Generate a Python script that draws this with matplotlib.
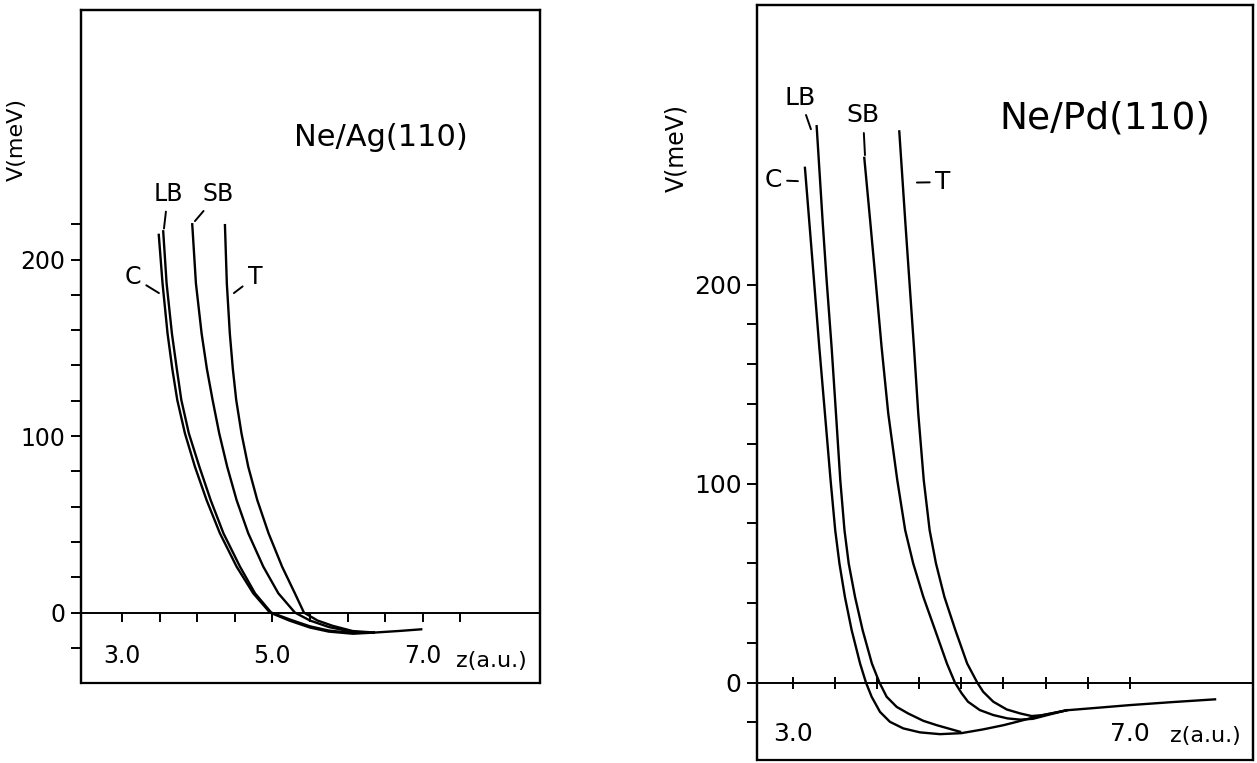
import matplotlib.pyplot as plt
from matplotlib.patches import Rectangle

# ---- Ne/Ag(110): z in a.u., V in meV ----
ag_c_z = [3.49, 3.54, 3.607, 3.67, 3.736, 3.838, 3.971, 4.126, 4.303, 4.525, 4.746, 4.968,
          5.23, 5.50, 5.75, 6.07, 6.34, 6.70, 6.98]
ag_c_v = [214, 186.5, 158, 138, 120.4, 101.5, 82.6, 63.7, 44.9, 26.0, 10.9, 0,
          -4.6, -8.5, -10.8, -12.0, -11.4, -10.4, -9.5]
ag_lb_z = [3.549, 3.594, 3.665, 3.73, 3.79, 3.89, 4.03, 4.18, 4.35, 4.57, 4.77, 4.985,
           5.25, 5.50, 5.75, 6.07, 6.35]
ag_lb_v = [216, 186.5, 158, 138, 120.4, 101.5, 82.6, 63.7, 44.9, 26.0, 10.9, 0,
           -4.2, -7.8, -10.2, -11.6, -11.3]
ag_sb_z = [3.935, 3.984, 4.06, 4.13, 4.206, 4.294, 4.40, 4.525, 4.68, 4.88, 5.08, 5.30,
           5.50, 5.75, 6.07, 6.35]
ag_sb_v = [220, 186.5, 158, 138, 120.4, 101.5, 82.6, 63.7, 44.9, 26.0, 10.9, 0,
           -4.5, -8.2, -11.0, -11.3]
ag_t_z = [4.37, 4.395, 4.435, 4.475, 4.52, 4.59, 4.68, 4.80, 4.95, 5.13, 5.30, 5.42,
          5.60, 5.80, 6.07, 6.35]
ag_t_v = [219.5, 186.5, 158, 138, 120.4, 101.5, 82.6, 63.7, 44.9, 26.0, 10.9, 0,
          -4.5, -7.5, -10.5, -11.3]

# ---- Ne/Pd(110) ----
pd_c_z = [3.146, 3.196, 3.253, 3.316, 3.383, 3.45, 3.505, 3.555, 3.62, 3.70, 3.80, 3.87,
          3.937, 4.036, 4.154, 4.312, 4.51, 4.747, 5.00, 5.26, 5.50, 5.66, 5.90, 6.25,
          6.60, 7.00, 7.50, 8.01]
pd_c_v = [258.7, 232.4, 202.3, 168.7, 135.3, 101.8, 76.6, 59.9, 43.1, 26.4, 9.6, 0,
          -7.1, -14.7, -19.7, -23.0, -25.0, -25.9, -25.4, -23.5, -21.4, -19.7, -17.0, -13.9,
          -12.7, -11.3, -9.8, -8.4]
pd_lb_z = [3.285, 3.355, 3.403, 3.462, 3.514, 3.565, 3.615, 3.665, 3.74, 3.83, 3.94, 4.03,
           4.115, 4.234, 4.37, 4.55, 4.71, 4.985]
pd_lb_v = [279.6, 232.4, 202.3, 168.7, 135.3, 101.8, 76.6, 59.9, 43.1, 26.4, 9.6, 0,
           -7.1, -12.2, -15.5, -19.2, -21.4, -24.7]
pd_sb_z = [3.85, 3.919, 3.984, 4.055, 4.134, 4.241, 4.335, 4.43, 4.55, 4.69, 4.83, 4.925,
           5.005, 5.08, 5.22, 5.38, 5.55, 5.70, 5.85, 6.05, 6.25]
pd_sb_v = [263.7, 232.4, 202.3, 168.7, 135.3, 101.8, 76.6, 59.9, 43.1, 26.4, 9.6, 0,
           -5.4, -9.6, -13.8, -16.3, -18.0, -18.6, -18.2, -16.0, -13.9]
pd_t_z = [4.265, 4.335, 4.384, 4.439, 4.49, 4.555, 4.625, 4.70, 4.80, 4.93, 5.07, 5.19,
          5.26, 5.38, 5.54, 5.70, 5.835, 5.95, 6.10, 6.25]
pd_t_v = [277, 232.4, 202.3, 168.7, 135.3, 101.8, 76.6, 59.9, 43.1, 26.4, 9.6, 0,
          -4.6, -9.6, -13.5, -15.5, -16.8, -16.4, -15.2, -13.9]

ag_xticks = [3.0, 3.5, 4.0, 4.5, 5.0, 5.5, 6.0, 6.5, 7.0, 7.5]
ag_xlabels = ["3.0", "", "", "", "5.0", "", "", "", "7.0", ""]
pd_xticks = [3.0, 3.5, 4.0, 4.5, 5.0, 5.5, 6.0, 6.5, 7.0]
pd_xlabels = ["3.0", "", "", "", "", "", "", "", "7.0"]
ag_yticks = list(range(-20, 221, 20))
pd_yticks = list(range(-20, 201, 20))


def ylabels(ticks):
    return [str(t) if t in (0, 100, 200) else "" for t in ticks]


def setup(ax, xlim, ylim, xt, xl, yt, fs, xdir, xlen, xpad):
    ax.set_xlim(*xlim)
    ax.set_ylim(*ylim)
    ax.spines['bottom'].set_position(('data', 0))
    ax.spines['bottom'].set_linewidth(1.4)
    for s in ('left', 'right', 'top'):
        ax.spines[s].set_linewidth(1.6)
    ax.add_patch(Rectangle((0, 0), 1, 1, transform=ax.transAxes, fill=False,
                           lw=1.6, clip_on=False))
    ax.set_xticks(xt)
    ax.set_xticklabels(xl)
    ax.set_yticks(yt)
    ax.set_yticklabels(ylabels(yt))
    ax.tick_params(axis='x', direction=xdir, length=xlen, width=1.4, pad=xpad, labelsize=fs)
    ax.tick_params(axis='y', direction='out', length=7, width=1.4, pad=4, labelsize=fs)


fig = plt.figure(figsize=(12.57, 7.63), dpi=100)
ax1 = fig.add_axes([0.0644, 0.1049, 0.3652, 0.882])
ax2 = fig.add_axes([0.6022, 0.0039, 0.3946, 0.9895])

setup(ax1, (2.455, 8.56), (-39.9, 341.4), ag_xticks, ag_xlabels, ag_yticks, 17, 'out', 6.5, 16)
setup(ax2, (2.577, 8.46), (-38.9, 340.5), pd_xticks, pd_xlabels, pd_yticks, 18, 'inout', 9, 24)

lw = 1.7
for z, v in [(ag_c_z, ag_c_v), (ag_lb_z, ag_lb_v), (ag_sb_z, ag_sb_v), (ag_t_z, ag_t_v)]:
    ax1.plot(z, v, color='black', lw=lw, solid_joinstyle='round')
for z, v in [(pd_c_z, pd_c_v), (pd_lb_z, pd_lb_v), (pd_sb_z, pd_sb_v), (pd_t_z, pd_t_v)]:
    ax2.plot(z, v, color='black', lw=lw, solid_joinstyle='round')

# titles
ax1.text(6.444, 269.4, "Ne/Ag(110)", fontsize=22, ha='center', va='center')
ax2.text(6.706, 283.7, "Ne/Pd(110)", fontsize=27, ha='center', va='center')

# axis labels
ax1.set_ylabel("V(meV)", fontsize=16)
ax1.yaxis.set_label_coords(-0.118, 0.807)
ax2.set_ylabel("V(meV)", fontsize=17)
ax2.yaxis.set_label_coords(-0.139, 0.81)
ax1.set_xlabel("z(a.u.)", fontsize=16, va='center')
ax1.xaxis.set_label_coords(0.895, 0.0327)
ax2.set_xlabel("z(a.u.)", fontsize=16, va='center')
ax2.xaxis.set_label_coords(0.905, 0.0323)

# curve labels with leader lines
lead = dict(arrowstyle='-', lw=1.4, color='black', shrinkA=2, shrinkB=0)
ax1.annotate("LB", xy=(3.559, 217.6), xytext=(3.612, 237.1), fontsize=17,
             ha='center', va='center', arrowprops=lead)
ax1.annotate("SB", xy=(3.971, 221.8), xytext=(4.277, 237.1), fontsize=17,
             ha='center', va='center', arrowprops=lead)
ax1.annotate("C", xy=(3.492, 181), xytext=(3.146, 190.1), fontsize=17,
             ha='center', va='center', arrowprops=lead)
ax1.annotate("T", xy=(4.489, 181), xytext=(4.769, 190.1), fontsize=17,
             ha='center', va='center', arrowprops=lead)

ax2.annotate("LB", xy=(3.217, 278.1), xytext=(3.087, 294.0), fontsize=18,
             ha='center', va='center', arrowprops=lead)
ax2.annotate("SB", xy=(3.858, 265.1), xytext=(3.834, 285.0), fontsize=18,
             ha='center', va='center', arrowprops=lead)
ax2.annotate("C", xy=(3.063, 252.0), xytext=(2.766, 252.5), fontsize=18,
             ha='center', va='center', arrowprops=lead)
ax2.annotate("T", xy=(4.474, 251.3), xytext=(4.783, 251.5), fontsize=18,
             ha='center', va='center', arrowprops=lead)

fig.savefig("out.png", dpi=100, facecolor='white')
